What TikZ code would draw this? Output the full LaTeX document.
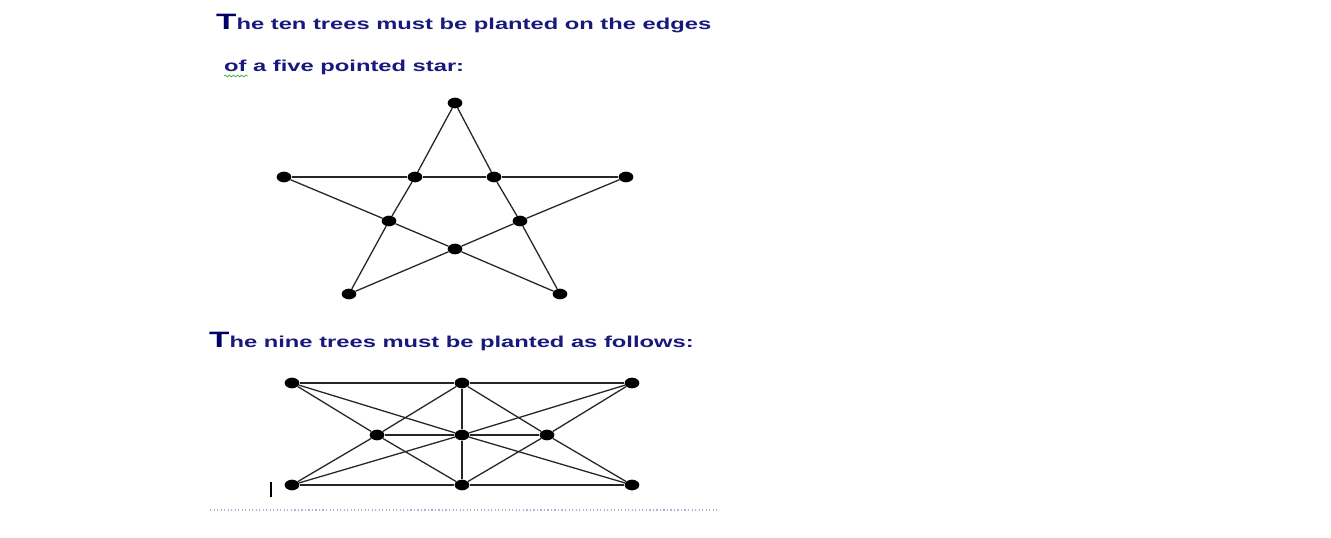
\documentclass[tikz,border=0pt]{standalone}
\usepackage{fontspec}
\setmainfont{Liberation Sans}
\usepackage{xcolor}
\usepackage{graphicx}
\usepackage{tikz}
\usetikzlibrary{positioning,shapes.geometric,decorations.pathmorphing}

\definecolor{inkblue}{RGB}{25,25,125}
\definecolor{capblue}{RGB}{0,0,100}
\definecolor{spellgreen}{RGB}{60,170,60}
\definecolor{rulegray}{RGB}{170,180,215}

\newcommand{\bigT}{{\fontsize{19}{19}\selectfont\color{capblue}T}}
\newcommand{\wide}[1]{\scalebox{1.5}[1]{#1}}

\tikzset{
  tree/.style={ellipse, fill=black, inner sep=0pt, minimum width=0.44cm, minimum height=0.32cm},
  edge/.style={line width=1.1pt, black!85},
  caption/.style={inner sep=0pt, anchor=base west, text=inkblue, font=\fontsize{13.5}{15}\selectfont\bfseries}
}

\begin{document}
\begin{tikzpicture}[x=0.03cm,y=-0.03cm]
  \useasboundingbox[fill=white] (0,0) rectangle (1331,538);

  \node[caption] (head1) at (216,30) {\wide{\bigT he ten trees must be planted on the edges}};
  \node[caption] (head2) at (224,72) {\wide{of a five pointed star:}};
  \draw[spellgreen, line width=0.6pt, decorate, decoration={snake, amplitude=0.8, segment length=3.5}]
    (224,76) -- (248,76);

  % the star
  \node[tree] (stop) at (455,103) {};
  \node[tree] (sleft) at (284,177) {};
  \node[tree] (sright) at (626,177) {};
  \node[tree] (sitl) at (415,177) {};
  \node[tree] (sitr) at (494,177) {};
  \node[tree] (sil) at (389,221) {};
  \node[tree] (sir) at (520,221) {};
  \node[tree] (sib) at (455,249) {};
  \node[tree] (sbl) at (349,294) {};
  \node[tree] (sbr) at (560,294) {};

  \draw[edge] (stop) -- (sitl) -- (sil) -- (sbl);
  \draw[edge] (stop) -- (sitr) -- (sir) -- (sbr);
  \draw[edge] (sleft) -- (sitl) -- (sitr) -- (sright);
  \draw[edge] (sleft) -- (sil) -- (sib) -- (sbr);
  \draw[edge] (sright) -- (sir) -- (sib) -- (sbl);

  \node[caption] (head3) at (209,347) {\wide{\bigT he nine trees must be planted as follows:}};

  % the nine trees
  \node[tree] (gtl) at (292,383) {};
  \node[tree] (gtc) at (462,383) {};
  \node[tree] (gtr) at (632,383) {};
  \node[tree] (gml) at (377,435) {};
  \node[tree] (gmc) at (462,435) {};
  \node[tree] (gmr) at (547,435) {};
  \node[tree] (gbl) at (292,485) {};
  \node[tree] (gbc) at (462,485) {};
  \node[tree] (gbr) at (632,485) {};

  \draw[edge] (gtl) -- (gtc) -- (gtr);
  \draw[edge] (gbl) -- (gbc) -- (gbr);
  \draw[edge] (gml) -- (gmc) -- (gmr);
  \draw[edge] (gtc) -- (gmc) -- (gbc);
  \draw[edge] (gtl) -- (gml) -- (gbc);
  \draw[edge] (gtr) -- (gmr) -- (gbc);
  \draw[edge] (gbl) -- (gml) -- (gtc);
  \draw[edge] (gbr) -- (gmr) -- (gtc);
  \draw[edge] (gtl) -- (gmc) -- (gbr);
  \draw[edge] (gtr) -- (gmc) -- (gbl);

  % cursor and page rule
  \coordinate (cur1) at (271,482);
  \coordinate (cur2) at (271,497);
  \draw[black, line width=1.6pt] (cur1) -- (cur2);
  \coordinate (rule1) at (210,510);
  \coordinate (rule2) at (718,510);
  \draw[rulegray, line width=1pt, dotted] (rule1) -- (rule2);
\end{tikzpicture}
\end{document}
